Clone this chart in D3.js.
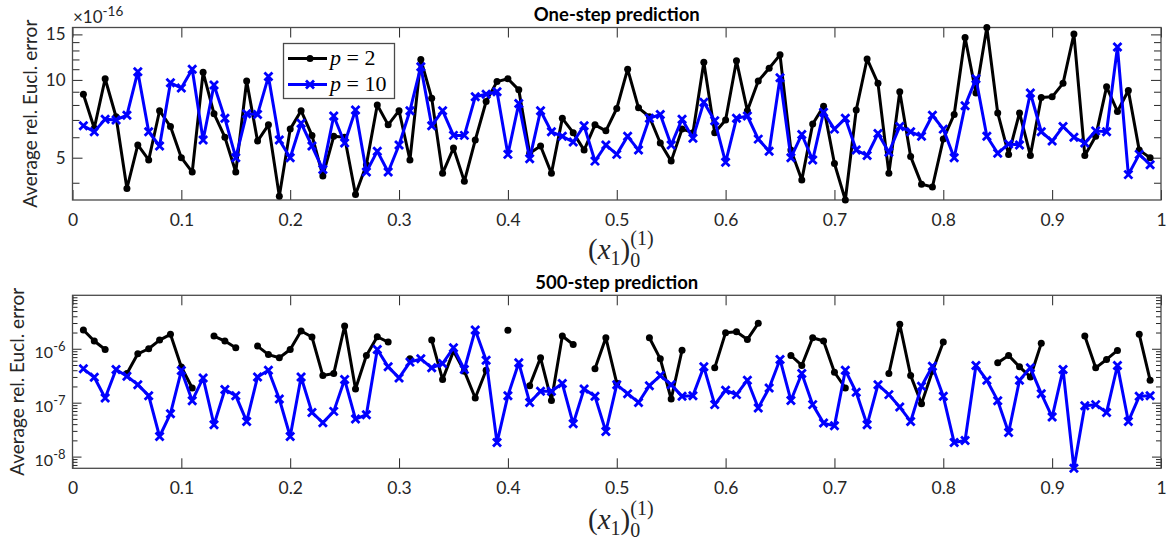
<!DOCTYPE html>
<html>
<head>
<meta charset="utf-8">
<script src="https://cdn.jsdelivr.net/npm/d3@7"></script>
<style>
  body { margin: 0; background: #fff; }
  svg text { font-family: Lato, "Open Sans", sans-serif; fill: #262626; }
  .tick line { stroke: #262626; }
</style>
</head>
<body>
<div id="chart"></div>
<script>

// initial condition (x1)_0^(1)
const xVals = [0.01,0.02,0.03,0.04,0.05,0.06,0.07,0.08,0.09,0.10,
  0.11,0.12,0.13,0.14,0.15,0.16,0.17,0.18,0.19,0.20,
  0.21,0.22,0.23,0.24,0.25,0.26,0.27,0.28,0.29,0.30,
  0.31,0.32,0.33,0.34,0.35,0.36,0.37,0.38,0.39,0.40,
  0.41,0.42,0.43,0.44,0.45,0.46,0.47,0.48,0.49,0.50,
  0.51,0.52,0.53,0.54,0.55,0.56,0.57,0.58,0.59,0.60,
  0.61,0.62,0.63,0.64,0.65,0.66,0.67,0.68,0.69,0.70,
  0.71,0.72,0.73,0.74,0.75,0.76,0.77,0.78,0.79,0.80,
  0.81,0.82,0.83,0.84,0.85,0.86,0.87,0.88,0.89,0.90,
  0.91,0.92,0.93,0.94,0.95,0.96,0.97,0.98,0.99];

// one-step error, in units of 1e-16
const oneStepP2 = [8.8,6.5,10.1,7.2,3.8,5.6,4.9,7.6,6.6,5.0,
  4.4,10.7,7.4,6.0,4.4,9.9,5.8,6.7,3.55,6.45,
  7.6,6.1,4.25,6.05,6.0,3.6,4.7,8.0,6.7,7.6,
  4.9,12.0,8.5,4.35,5.45,4.05,5.85,8.25,9.85,10.1,
  9.15,5.2,5.55,4.35,7.1,6.25,5.35,6.7,6.35,7.75,
  11.0,7.8,7.2,5.7,4.85,6.45,6.25,11.7,6.25,7.0,
  11.85,7.6,9.9,11.1,12.5,5.35,4.1,6.75,7.9,4.75,
  3.43,7.65,12.05,9.7,4.35,9.0,5.05,3.95,3.85,5.9,
  7.35,14.6,8.9,15.95,7.45,5.15,7.45,5.1,8.55,8.6,
  9.7,15.05,5.1,6.05,9.4,7.55,9.1,5.35,5.0];

const oneStepP10 = [6.65,6.3,7.05,7.0,7.3,10.75,6.3,5.55,9.75,9.3,
  11.0,5.85,9.55,7.1,5.0,7.4,7.35,10.3,5.85,5.0,
  6.8,5.55,4.5,7.25,5.7,7.65,4.4,5.3,4.4,5.6,
  7.6,11.25,6.65,7.6,6.1,6.1,8.6,8.8,9.0,5.15,
  8.1,4.95,7.6,6.3,6.05,5.75,6.65,4.85,5.6,5.15,
  6.05,5.35,7.1,7.35,5.6,7.05,5.95,8.2,6.95,4.8,
  7.1,7.25,5.9,5.3,10.2,5.0,6.15,4.9,7.5,6.45,
  7.1,5.35,5.1,6.2,5.25,6.6,6.3,6.05,7.3,6.45,
  5.0,7.95,10.1,6.05,5.2,5.65,5.6,8.9,6.3,5.8,
  6.6,6.0,5.7,6.35,6.3,13.4,4.3,5.15,4.7];

// 500-step error (null = no value)
const longP2 = [2.23e-6,1.39e-6,9.7e-7,null,3.47e-7,8.07e-7,1.0e-6,1.45e-6,1.85e-6,4.6e-7,
  1.87e-7,null,1.72e-6,1.39e-6,1.04e-6,null,1.12e-6,7.8e-7,6.8e-7,9.7e-7,
  2.14e-6,1.65e-6,3.18e-7,3.47e-7,2.64e-6,1.8e-7,7.5e-7,1.67e-6,1.33e-6,null,
  6.5e-7,null,1.45e-6,2.68e-7,9.05e-7,3.84e-7,1.22e-7,4.0e-7,null,2.2e-6,
  null,2.07e-7,6.8e-7,1.1e-7,1.72e-6,1.2e-6,null,4.24e-7,1.6e-6,2.3e-7,
  null,null,1.6e-6,6.5e-7,1.17e-7,9.4e-7,null,null,4.43e-7,1.99e-6,
  2.07e-6,1.49e-6,2.96e-6,null,null,7.5e-7,4.9e-7,1.6e-6,1.39e-6,3.67e-7,
  1.87e-7,null,null,null,3.47e-7,2.84e-6,3.18e-7,9.6e-8,3.84e-7,1.33e-6,
  null,null,null,null,5.48e-7,7.5e-7,4.62e-7,3.0e-7,1.26e-6,null,
  null,null,1.72e-6,4.43e-7,6.33e-7,9.3e-7,null,1.85e-6,2.61e-7];

const longP10 = [4.24e-7,2.96e-7,1.22e-7,4.12e-7,3.09e-7,2.16e-7,1.35e-7,2.36e-8,6.24e-8,3.94e-7,
  1.09e-7,2.88e-7,3.9e-8,1.75e-7,1.35e-7,4.49e-8,3.0e-7,4.0e-7,1.17e-7,2.36e-8,
  3.0e-7,6.6e-8,4.25e-8,6.9e-8,2.68e-7,4.97e-8,5.97e-8,9.7e-7,4.62e-7,2.88e-7,
  5.65e-7,6.5e-7,4.43e-7,5.33e-7,1.04e-6,4.12e-7,2.23e-6,6.15e-7,1.82e-8,1.35e-7,
  5.48e-7,1.01e-7,1.63e-7,1.63e-7,2.26e-7,4.06e-8,1.8e-7,1.31e-7,2.92e-8,2.16e-7,
  1.47e-7,1.01e-7,2.07e-7,3.18e-7,2.16e-7,1.31e-7,1.35e-7,4.62e-7,9.2e-8,1.7e-7,
  1.41e-7,2.61e-7,7.95e-8,1.87e-7,6.33e-7,1.1e-7,3.47e-7,9.2e-8,4.18e-8,3.72e-8,
  4.0e-7,1.56e-7,3.89e-8,2.16e-7,1.41e-7,8.3e-8,4.49e-8,2.01e-7,4.75e-7,1.31e-7,
  1.82e-8,1.99e-8,4.89e-7,2.61e-7,1.09e-7,2.8e-8,2.61e-7,4.43e-7,1.47e-7,5.4e-8,
  4.12e-7,6.07e-9,8.8e-8,9.2e-8,6.6e-8,4.89e-7,4.49e-8,1.31e-7,1.35e-7];

const xTicks = [0,0.1,0.2,0.3,0.4,0.5,0.6,0.7,0.8,0.9,1];
const xTickLabels = ["0","0.1","0.2","0.3","0.4","0.5","0.6","0.7","0.8","0.9","1"];
const oneStepTicks = [5,10,15];
const oneStepMinor = [4,6,7,8,9,11,12,13,14];
const longTicks = [1e-8,1e-7,1e-6];
const longMinor = [7e-9,8e-9,9e-9,
  2e-8,3e-8,4e-8,5e-8,6e-8,7e-8,8e-8,9e-8,
  2e-7,3e-7,4e-7,5e-7,6e-7,7e-7,8e-7,9e-7,
  2e-6,3e-6,4e-6,5e-6,6e-6,7e-6,8e-6,9e-6];
const longTop = 9.8e-6;
const pValues = [2, 10];

const w = 1172;
const h = 540;
const left = 72.5;
const right = 1161;
const frameColor = "#4a4a4a";

const svg = d3.select("#chart").append("svg")
  .attr("width", w)
  .attr("height", h);

const xScale = d3.scaleLinear().domain([0, 1]).range([left, right]);

function superLabel(sel, base, exp, size, expSize) {
  sel.text(base);
  sel.append("tspan")
    .attr("dy", -size * 0.45)
    .style("font-size", expSize + "px")
    .text(exp);
}

function mathLabel(x, y) {
  const t = svg.append("text")
    .attr("x", x)
    .attr("y", y)
    .style("font-family", "'Liberation Serif', 'DejaVu Serif', serif")
    .style("font-size", "29px");
  t.append("tspan").text("(");
  t.append("tspan").style("font-style", "italic").text("x");
  t.append("tspan").attr("dy", 6).style("font-size", "20px").text("1");
  t.append("tspan").attr("dy", -6).text(")");
  t.append("tspan").attr("dy", 8).style("font-size", "20px").text("0");
  t.append("tspan").attr("dx", -10).attr("dy", -22).style("font-size", "20px").text("(1)");
}

function drawPanel(cfg) {
  const g = svg.append("g");
  const y = cfg.y;
  const [bottom, top] = y.range();

  // axes, ticks pointing inward
  const tickLabel = d3.scaleOrdinal().domain(xTicks).range(xTickLabels);
  g.append("g")
    .attr("transform", "translate(0," + bottom + ")")
    .call(d3.axisBottom(xScale).tickValues(xTicks).tickSize(-10).tickPadding(13.5)
      .tickFormat(d => tickLabel(d)))
    .call(a => a.select(".domain").remove())
    .call(a => a.selectAll("text").style("font-size", "17.5px").style("fill", "#262626"));
  g.append("g")
    .attr("transform", "translate(0," + top + ")")
    .call(d3.axisTop(xScale).tickValues(xTicks).tickSize(-10).tickFormat(""))
    .call(a => a.select(".domain").remove());

  const yl = g.append("g")
    .attr("transform", "translate(" + left + ",0)")
    .call(d3.axisLeft(y).tickValues(cfg.ticks).tickSize(-cfg.major).tickPadding(7)
      .tickFormat(cfg.fmt))
    .call(a => a.select(".domain").remove())
    .call(a => a.selectAll("text").style("font-size", "17px").style("fill", "#262626"));
  if (cfg.sup) {
    yl.selectAll(".tick text").each(function (d) {
      const t = d3.select(this).attr("dy", "0.55em").style("font-size", "16px");
      superLabel(t, "10", "-" + Math.round(-Math.log10(d)), 16, 13);
    });
  }
  g.append("g")
    .attr("transform", "translate(" + left + ",0)")
    .call(d3.axisLeft(y).tickValues(cfg.minor).tickSize(-cfg.minorLen).tickFormat(""))
    .call(a => a.select(".domain").remove());
  g.append("g")
    .attr("transform", "translate(" + right + ",0)")
    .call(d3.axisRight(y).tickValues(cfg.ticks).tickSize(-cfg.major).tickFormat(""))
    .call(a => a.select(".domain").remove());
  g.append("g")
    .attr("transform", "translate(" + right + ",0)")
    .call(d3.axisRight(y).tickValues(cfg.minor).tickSize(-cfg.minorLen).tickFormat(""))
    .call(a => a.select(".domain").remove());

  g.selectAll(".tick line").attr("stroke", frameColor).attr("stroke-width", 1);

  g.append("rect")
    .attr("x", left)
    .attr("y", top)
    .attr("width", right - left)
    .attr("height", bottom - top)
    .attr("fill", "none")
    .attr("stroke", frameColor)
    .attr("stroke-width", 1.3);

  const line = d3.line()
    .defined(d => d[1] != null)
    .x(d => xScale(d[0]))
    .y(d => y(d[1]));

  const p2 = xVals.map((x, i) => [x, cfg.p2[i]]);
  const p10 = xVals.map((x, i) => [x, cfg.p10[i]]);

  g.append("path")
    .datum(p2)
    .attr("d", line)
    .attr("fill", "none")
    .attr("stroke", "#000")
    .attr("stroke-width", 3)
    .attr("stroke-linejoin", "round");
  g.selectAll(".dot")
    .data(p2.filter(d => d[1] != null))
    .enter().append("circle")
    .attr("class", "dot")
    .attr("cx", d => xScale(d[0]))
    .attr("cy", d => y(d[1]))
    .attr("r", 3.5)
    .attr("fill", "#000");

  g.append("path")
    .datum(p10)
    .attr("d", line)
    .attr("fill", "none")
    .attr("stroke", "#0000ff")
    .attr("stroke-width", 3)
    .attr("stroke-linejoin", "round");
  g.selectAll(".cross")
    .data(p10)
    .enter().append("path")
    .attr("class", "cross")
    .attr("transform", d => "translate(" + xScale(d[0]) + "," + y(d[1]) + ")")
    .attr("d", "M-4,-4L4,4M-4,4L4,-4")
    .attr("stroke", "#0000ff")
    .attr("stroke-width", 2.8);

  // title
  g.append("text")
    .attr("x", (left + right) / 2)
    .attr("y", cfg.titleY)
    .attr("text-anchor", "middle")
    .style("font-size", "18.5px")
    .style("font-weight", "bold")
    .style("fill", "#000")
    .text(cfg.title);

  g.append("text")
    .attr("transform", "translate(" + cfg.yLabelX + "," + ((top + bottom) / 2) + ") rotate(-90)")
    .attr("text-anchor", "middle")
    .style("font-size", "19px")
    .text("Average rel. Eucl. error");

  mathLabel(588, cfg.labelY);
}

const allOne = oneStepP2.concat(oneStepP10);
const yOne = d3.scaleLog()
  .domain([d3.min(allOne), d3.max(allOne)])
  .range([200, 27.5]);

const yLong = d3.scaleLog()
  .domain([d3.min(longP10), longTop])
  .range([468.3, 295.3]);

drawPanel({
  y: yOne, p2: oneStepP2, p10: oneStepP10,
  ticks: oneStepTicks, minor: oneStepMinor, major: 10, minorLen: 7,
  fmt: d3.format("d"), sup: false, yLabelX: 37,
  title: "One-step prediction", titleY: 20.5, labelY: 259
});

drawPanel({
  y: yLong, p2: longP2, p10: longP10,
  ticks: longTicks, minor: longMinor, major: 9, minorLen: 5,
  fmt: d => "", sup: true, yLabelX: 24,
  title: "500-step prediction", titleY: 289, labelY: 529
});

// exponent of the top panel
const ex = svg.append("text")
  .attr("x", 73)
  .attr("y", 23)
  .style("font-size", "17px");
superLabel(ex, "\u00d710", "-16", 16, 13.5);

// legend
const legend = svg.append("g");
legend.append("rect")
  .attr("x", 283.5).attr("y", 43.5)
  .attr("width", 111).attr("height", 55)
  .attr("fill", "#fff")
  .attr("stroke", frameColor)
  .attr("stroke-width", 1.3);

const legendRows = legend.selectAll(".row")
  .data(pValues)
  .enter().append("g")
  .attr("class", "row")
  .attr("transform", (d, i) => "translate(0," + (58.5 + i * 26) + ")");

legendRows.append("line")
  .attr("x1", 288).attr("x2", 327)
  .attr("stroke", (d, i) => i === 0 ? "#000" : "#0000ff")
  .attr("stroke-width", 3);
legendRows.filter((d, i) => i === 0).append("circle")
  .attr("cx", 310).attr("r", 3.5).attr("fill", "#000");
legendRows.filter((d, i) => i === 1).append("path")
  .attr("transform", "translate(310,0)")
  .attr("d", "M-4,-4L4,4M-4,4L4,-4")
  .attr("stroke", "#0000ff")
  .attr("stroke-width", 2.8);

const legendText = legendRows.append("text")
  .attr("x", 330)
  .attr("y", 6)
  .style("font-family", "'Liberation Serif', 'DejaVu Serif', serif")
  .style("font-size", "22px")
  .style("fill", "#000");
legendText.append("tspan").style("font-style", "italic").text("p");
legendText.append("tspan").text(d => " = " + d);

</script>
</body>
</html>
